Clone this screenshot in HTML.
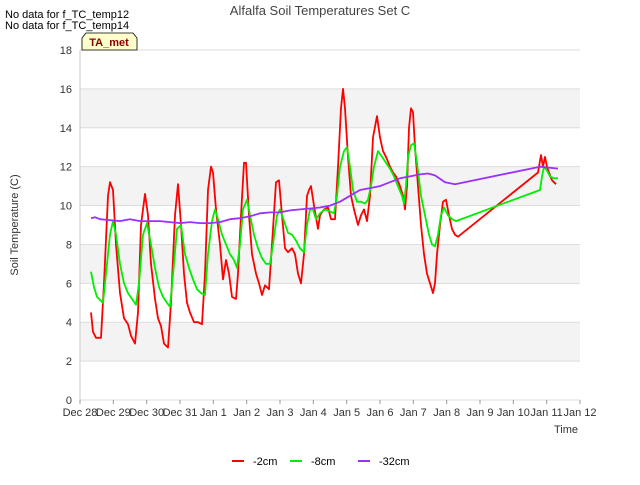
<!DOCTYPE html>
<html><head><meta charset="utf-8"><style>
body{margin:0;background:#fff;font-family:"Liberation Sans",sans-serif}
svg text{font-family:"Liberation Sans",sans-serif}
</style></head><body>
<svg id="chart" width="640" height="480" xmlns="http://www.w3.org/2000/svg">
<rect width="640" height="480" fill="#fff"/>
<text x="320" y="15" text-anchor="middle" font-size="13" fill="#444">Alfalfa Soil Temperatures Set C</text>
<text x="5" y="18" font-size="11" fill="#000">No data for f_TC_temp12</text>
<text x="5" y="29" font-size="11" fill="#000">No data for f_TC_temp14</text>
<g id="plot"></g>
<g>
<path d="M82,50 L82,38 L86,33 L133,33 L137,38 L137,50 Z" fill="#ffffcc" stroke="#000" stroke-width="0.8"/>
<text x="109" y="46" text-anchor="middle" font-size="11" font-weight="bold" fill="#8b0000">TA_met</text>
</g>
<text transform="translate(18,225) rotate(-90)" text-anchor="middle" font-size="11" fill="#333">Soil Temperature (C)</text>
<text x="578" y="433" text-anchor="end" font-size="11" fill="#333">Time</text>
<g id="legend"></g>
</svg>
<script>
const xTickLabels=["Dec 28","Dec 29","Dec 30","Dec 31","Jan 1","Jan 2","Jan 3","Jan 4","Jan 5","Jan 6","Jan 7","Jan 8","Jan 9","Jan 10","Jan 11","Jan 12"];
const yTicks=[0,2,4,6,8,10,12,14,16,18];
const seriesNames=["-2cm","-8cm","-32cm"];
const seriesColors=["#ff0000","#00ee00","#9b30ff"];
const t2=[0.33,.39,.48,.63,.72,.84,.90,.99,1.08,1.20,1.32,1.44,1.53,1.65,1.74,1.83,1.95,2.04,2.13,2.25,2.34,2.43,2.52,2.64,2.73,2.85,2.94,3.03,3.12,3.21,3.30,3.42,3.54,3.66,3.75,3.84,3.93,3.99,4.08,4.20,4.29,4.38,4.47,4.56,4.68,4.74,4.83,4.92,4.98,5.07,5.16,5.28,5.37,5.46,5.55,5.67,5.76,5.88,5.97,6.06,6.15,6.24,6.36,6.45,6.54,6.63,6.72,6.81,6.87,6.93,7.02,7.14,7.20,7.32,7.44,7.53,7.65,7.74,7.83,7.89,7.95,8.04,8.13,8.22,8.34,8.43,8.52,8.61,8.70,8.79,8.91,9.00,9.09,9.18,9.30,9.39,9.48,9.60,9.69,9.75,9.81,9.87,9.93,9.99,10.05,10.14,10.23,10.32,10.41,10.50,10.59,10.65,10.71,10.80,10.89,10.98,11.07,11.16,11.25,11.34,13.74,13.83,13.89,13.95,14.01,14.07,14.16,14.28];
const v2=[4.5,3.5,3.2,3.2,6,10.5,11.2,10.8,8,5.5,4.2,3.9,3.3,2.9,4.5,9,10.6,9.5,7,5.2,4.2,3.8,2.9,2.7,5,9.5,11.1,9,6.5,5,4.5,4,4,3.9,6.5,10.8,12,11.7,9.8,8,6.2,7.2,6.5,5.3,5.2,6.5,9.5,12.2,12.2,9.5,7.5,6.5,6,5.4,5.9,5.7,8,11.2,11.3,9.5,7.8,7.6,7.8,7.5,6.5,6,7.5,10.5,10.8,11,10,8.8,9.5,9.8,9.9,9.3,9.3,12,15,16,15,12.5,10.5,9.8,9,9.5,9.8,9.2,10.5,13.5,14.6,13.5,12.8,12.5,12,11.7,11.5,11,10.5,9.8,11,14,15,14.8,13,11,9,7.5,6.5,6,5.5,6,7.5,9,10.2,10.3,9.5,8.8,8.5,8.4,11.7,12.6,12,12.5,12,11.7,11.3,11.1];
const t8=[.33,.42,.51,.69,.78,.9,.99,1.08,1.2,1.32,1.44,1.56,1.68,1.77,1.89,2.01,2.13,2.25,2.37,2.49,2.61,2.7,2.82,2.91,3.03,3.15,3.27,3.39,3.51,3.63,3.75,3.84,3.96,4.05,4.14,4.26,4.38,4.5,4.62,4.71,4.8,4.89,5.01,5.1,5.22,5.34,5.46,5.58,5.7,5.79,5.91,6.0,6.12,6.24,6.36,6.48,6.6,6.72,6.81,6.9,6.99,7.08,7.2,7.35,7.5,7.62,7.71,7.8,7.92,8.01,8.1,8.19,8.31,8.43,8.55,8.64,8.73,8.82,8.94,9.06,9.18,9.3,9.42,9.54,9.66,9.72,9.78,9.84,9.93,10.02,10.11,10.23,10.35,10.47,10.56,10.65,10.74,10.83,10.92,11.04,11.16,11.28,13.8,13.86,13.92,14.01,14.1,14.22,14.34];
const v8=[6.6,5.8,5.3,5.0,6.5,8.5,9.2,8.5,7,6,5.5,5.2,4.9,6,8.5,9.1,8,6.8,5.8,5.3,5,4.8,7,8.8,9.0,7.5,6.8,6.2,5.7,5.5,5.4,7.5,9.2,9.8,9.3,8.5,8,7.5,7.2,6.8,8,9.8,10.3,9.5,8.5,7.8,7.3,7,7,8,9.5,9.8,9.2,8.6,8.5,8.2,7.8,7.6,9,9.8,9.8,9.3,9.6,9.8,9.7,9.6,10.5,12,12.8,13,12,10.8,10.2,10.2,10.1,10.3,11,12,12.8,12.5,12.2,11.9,11.5,11,10.5,10.1,11,12.5,13.1,13.2,12.2,10.5,9.5,8.5,8,7.9,8.5,9.5,9.9,9.5,9.3,9.2,10.8,11.5,12,11.8,11.5,11.4,11.4];
const t32=[.33,.45,.6,.9,1.2,1.5,1.8,2.1,2.4,2.7,3.0,3.3,3.6,3.9,4.2,4.5,4.8,5.1,5.4,5.7,6.0,6.3,6.6,6.9,7.2,7.5,7.8,8.1,8.4,8.7,9.0,9.3,9.6,9.9,10.2,10.44,10.65,10.95,11.25,13.8,14.34];
const v32=[9.35,9.4,9.3,9.25,9.2,9.3,9.2,9.2,9.2,9.15,9.1,9.15,9.1,9.1,9.15,9.3,9.35,9.45,9.6,9.65,9.65,9.75,9.8,9.85,9.9,10.0,10.2,10.5,10.8,10.9,11.0,11.2,11.4,11.5,11.6,11.65,11.55,11.2,11.1,12.0,11.9];

const NS="http://www.w3.org/2000/svg";
const L=80,R=580,T=50,B=400,yMax=18,days=15;
const xs=d=>L+(d/days)*(R-L);
const ys=v=>B-(v/yMax)*(B-T);
const plot=document.getElementById('plot');
function mk(tag,attrs,parent){const e=document.createElementNS(NS,tag);for(const k in attrs)e.setAttribute(k,attrs[k]);parent.appendChild(e);return e;}
// bands
for(let i=0;i<yTicks.length-1;i++){
  if(i%2===1){const r=mk('rect',{x:L,y:ys(yTicks[i+1]),width:R-L,height:ys(yTicks[i])-ys(yTicks[i+1]),fill:'#f3f3f3'},plot);
  
  }
}
yTicks.forEach(v=>{
  const g=mk('line',{x1:L,x2:R,y1:ys(v),y2:ys(v),stroke:'#dddddd','stroke-width':1},plot);
  
  
  const t=mk('text',{x:L-8,y:ys(v)+4,'text-anchor':'end','font-size':11,fill:'#333'},plot);
  
  
  t.textContent=v;
});
const ax=mk('line',{x1:L,x2:L,y1:T,y2:B,stroke:'#ccc'},plot);


xTickLabels.forEach((lab,i)=>{
  const x=xs(i);
  const tk=mk('line',{x1:x,x2:x,y1:B,y2:B+4,stroke:'#999'},plot);
  
  
  const t=mk('text',{x:x,y:B+16,'text-anchor':'middle','font-size':11,fill:'#333'},plot);
  
  
  t.textContent=lab;
});
[[t2,v2],[t8,v8],[t32,v32]].forEach((s,k)=>{
  const pts=s[0].map((d,i)=>xs(d).toFixed(1)+','+ys(s[1][i]).toFixed(1)).join(' ');
  const pl=mk('polyline',{points:pts,fill:'none',stroke:seriesColors[k],'stroke-width':1.8,'stroke-linejoin':'round'},plot);
  
  
});
const leg=document.getElementById('legend');
const lx=[232,290,358];
seriesNames.forEach((n,k)=>{
  const g=mk('g',{},leg);
  
  
  mk('line',{x1:lx[k],x2:lx[k]+12,y1:461,y2:461,stroke:seriesColors[k],'stroke-width':2},g);
  const t=mk('text',{x:lx[k]+21,y:465,'font-size':11,fill:'#000'},g);
  t.textContent=n;
});
</script>
</body></html>
